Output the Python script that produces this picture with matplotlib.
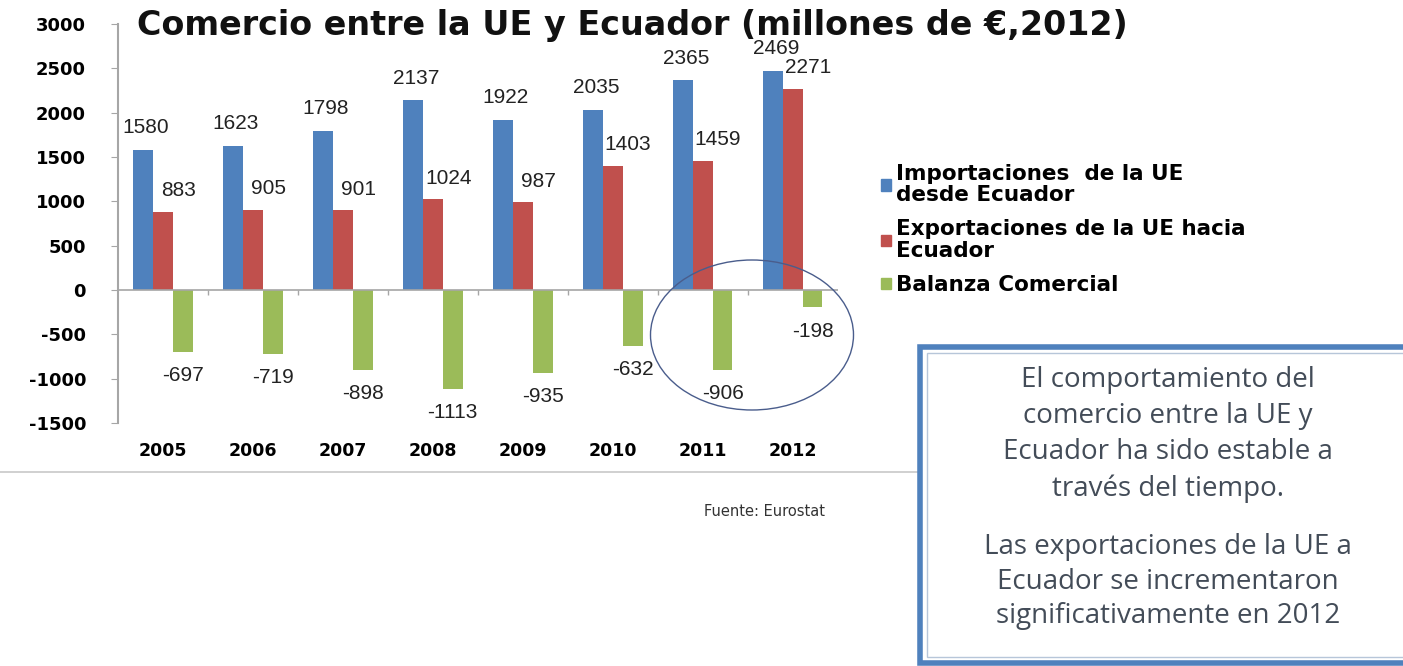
import numpy as np
import matplotlib.pyplot as plt
from matplotlib.patches import Patch, Ellipse, Rectangle
from matplotlib.lines import Line2D

plt.rcParams["axes.unicode_minus"] = False

# ---------------- data ----------------
years = ["2005", "2006", "2007", "2008", "2009", "2010", "2011", "2012"]
importaciones = [1580, 1623, 1798, 2137, 1922, 2035, 2365, 2469]
exportaciones = [883, 905, 901, 1024, 987, 1403, 1459, 2271]
balanza = [-697, -719, -898, -1113, -935, -632, -906, -198]

BLUE = "#4f81bd"
RED = "#c0504d"
GREEN = "#9bbb59"
GRID = "#a6a6a6"

fig = plt.figure(figsize=(14.03, 6.66), dpi=100)
fig.patch.set_facecolor("white")
ax = fig.add_axes([0.0841, 0.365, 0.513, 0.599])

x = np.arange(len(years))
w = 0.22
ax.bar(x - w, importaciones, w, color=BLUE)
ax.bar(x, exportaciones, w, color=RED)
ax.bar(x + w, balanza, w, color=GREEN)

lab = dict(fontsize=15, family="Liberation Sans", color="#222222", ha="center", va="center",
           textcoords="offset points")
for i in range(len(years)):
    ax.annotate(str(importaciones[i]), (x[i] - w, importaciones[i]), xytext=(2, 16), **lab)
    ax.annotate(str(exportaciones[i]), (x[i], exportaciones[i]), xytext=(11, 15), **lab)
    ax.annotate(str(balanza[i]), (x[i] + w, balanza[i]), xytext=(0, -17), **lab)

ax.set_xlim(-0.5, 7.5)
ax.set_ylim(-1500, 3000)
ax.set_yticks(range(-1500, 3001, 500))
ax.tick_params(axis="y", direction="out", length=5, color=GRID, labelsize=13, pad=18)
for t in ax.get_yticklabels():
    t.set_fontweight("bold")
    t.set_horizontalalignment("right")

ax.set_xticks(x, years)
ax.tick_params(axis="x", length=0, labelsize=12.5, pad=14)
for t in ax.get_xticklabels():
    t.set_fontweight("bold")

for s in ["top", "right", "bottom"]:
    ax.spines[s].set_visible(False)
ax.spines["left"].set_color(GRID)
ax.spines["left"].set_linewidth(1.5)
ax.axhline(0, color=GRID, lw=1.2)
ax.vlines(x[:-1] + 0.5, -60, 0, color=GRID, lw=1)

fig.text(0.098, 0.962, "Comercio entre la UE y Ecuador (millones de \u20ac,2012)",
         fontsize=24, fontweight="bold", ha="left", va="center", color="#111111")

# legend
handles = [Patch(color=BLUE), Patch(color=RED), Patch(color=GREEN)]
names = ["Importaciones  de la UE\ndesde Ecuador", "Exportaciones de la UE hacia\nEcuador",
         "Balanza Comercial"]
leg = fig.legend(handles, names, loc="upper left", bbox_to_anchor=(0.614, 0.783), frameon=False,
                 handlelength=0.45, handleheight=0.45, handletextpad=0.25, labelspacing=0.65,
                 prop=dict(size=15.5, weight="bold"))
for t in leg.get_texts():
    t.set_linespacing(1.1)

# highlight circle
fig.patches.append(Ellipse((752 / 1403, 1 - 335 / 666), 203 / 1403, 150 / 666,
                           transform=fig.transFigure, fill=False, ec="#4a5d8c", lw=1))

# separator line and source
fig.add_artist(Line2D([0, 0.955], [1 - 472 / 666] * 2, color="#c8c8c8", lw=1.2))
fig.text(0.502, 1 - 512 / 666, "Fuente: Eurostat", fontsize=10.5, ha="left", va="center",
         color="#333333")

# text box
fig.patches.append(Rectangle((920 / 1403, 3 / 666), 490 / 1403, 316 / 666,
                             transform=fig.transFigure, fc="white", ec=BLUE, lw=4, zorder=3))
fig.patches.append(Rectangle((927 / 1403, 9 / 666), 480 / 1403, 304 / 666,
                             transform=fig.transFigure, fc="white", ec="#b7c6d9", lw=1, zorder=3))
lines1 = ["El comportamiento del", "comercio entre la UE y", "Ecuador ha sido estable a",
          "trav\u00e9s del tiempo."]
lines2 = ["Las exportaciones de la UE a", "Ecuador se incrementaron", "significativamente en 2012"]
for y, s in zip([380, 416, 452, 489], lines1):
    fig.text(1168 / 1403, 1 - y / 666, s, family="Open Sans", fontsize=20, color="#434c58",
             ha="center", va="center", zorder=4)
for y, s in zip([547, 582, 616], lines2):
    fig.text(1168 / 1403, 1 - y / 666, s, family="Open Sans", fontsize=20, color="#434c58",
             ha="center", va="center", zorder=4)

plt.savefig("out.png", dpi=100)
